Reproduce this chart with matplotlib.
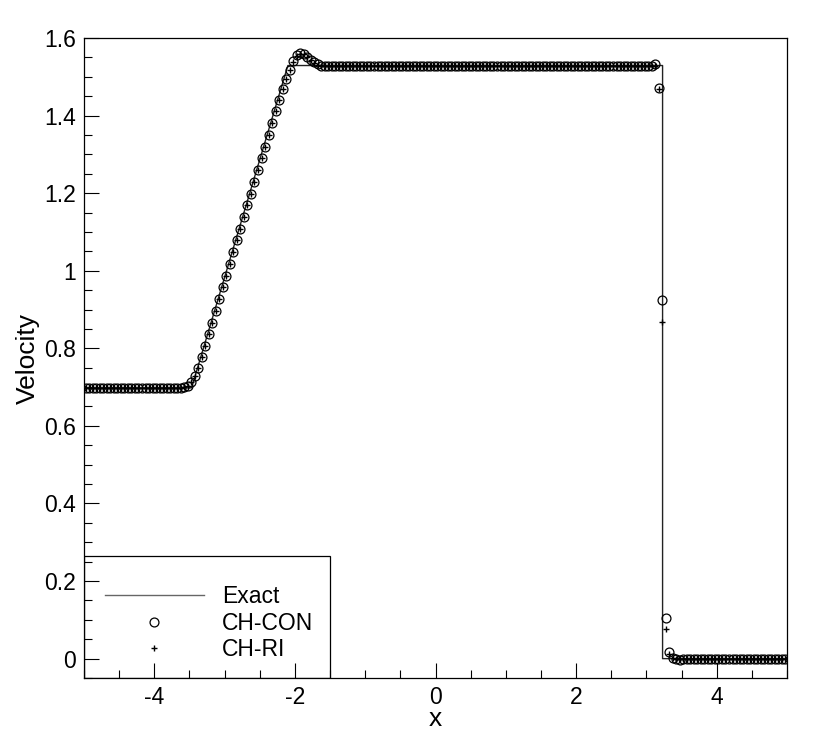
"""
    velocity profile of the Riemann problem: exact solution vs CH-CON / CH-RI
"""

import numpy as np
import matplotlib
matplotlib.use("Agg")
from matplotlib import pyplot as plt
from matplotlib.patches import Rectangle
from matplotlib.ticker import MultipleLocator, FuncFormatter

plt.rcParams['font.family'] = ['Liberation Sans', 'DejaVu Sans']
plt.rcParams['axes.unicode_minus'] = False

# exact solution (corner points)
exact_x = [-5.0, -3.47, -2.10, 3.23, 3.23, 5.0]
exact_u = [0.698, 0.698, 1.529, 1.529, 0.0, 0.0]

# cell centres, 200 cells on [-5, 5]
cell_x = np.linspace(-4.975, 4.975, 200)

ch_con = [
    0.698, 0.698, 0.698, 0.698, 0.698, 0.698, 0.698, 0.698, 0.698, 0.698,
    0.698, 0.698, 0.698, 0.698, 0.698, 0.698, 0.698, 0.698, 0.698, 0.698,
    0.698, 0.698, 0.698, 0.698, 0.698, 0.698, 0.698, 0.698, 0.699, 0.702,
    0.712, 0.729, 0.750, 0.777, 0.806, 0.836, 0.866, 0.896, 0.927, 0.957,
    0.987, 1.018, 1.048, 1.078, 1.108, 1.139, 1.169, 1.199, 1.229, 1.260,
    1.290, 1.320, 1.351, 1.381, 1.411, 1.441, 1.468, 1.494, 1.518, 1.540,
    1.555, 1.561, 1.559, 1.552, 1.544, 1.537, 1.532, 1.529, 1.527, 1.527,
    1.527, 1.528, 1.529, 1.529, 1.529, 1.529, 1.529, 1.529, 1.529, 1.529,
    1.529, 1.529, 1.529, 1.529, 1.529, 1.529, 1.529, 1.529, 1.529, 1.529,
    1.529, 1.529, 1.529, 1.529, 1.529, 1.529, 1.529, 1.529, 1.529, 1.529,
    1.529, 1.529, 1.529, 1.529, 1.529, 1.529, 1.529, 1.529, 1.529, 1.529,
    1.529, 1.529, 1.529, 1.529, 1.529, 1.529, 1.529, 1.529, 1.529, 1.529,
    1.529, 1.529, 1.529, 1.529, 1.529, 1.529, 1.529, 1.529, 1.529, 1.529,
    1.529, 1.529, 1.529, 1.529, 1.529, 1.529, 1.529, 1.529, 1.529, 1.529,
    1.529, 1.529, 1.529, 1.529, 1.529, 1.529, 1.529, 1.529, 1.529, 1.529,
    1.529, 1.529, 1.529, 1.529, 1.529, 1.529, 1.529, 1.529, 1.529, 1.529,
    1.529, 1.529, 1.534, 1.470, 0.925, 0.104, 0.017, 0.002, -0.002, -0.003,
    -0.002, -0.001, 0.0, 0.0, 0.0, 0.0, 0.0, 0.0, 0.0, 0.0,
    0.0, 0.0, 0.0, 0.0, 0.0, 0.0, 0.0, 0.0, 0.0, 0.0,
    0.0, 0.0, 0.0, 0.0, 0.0, 0.0, 0.0, 0.0, 0.0, 0.0,
]

ch_ri = [
    0.698, 0.698, 0.698, 0.698, 0.698, 0.698, 0.698, 0.698, 0.698, 0.698,
    0.698, 0.698, 0.698, 0.698, 0.698, 0.698, 0.698, 0.698, 0.698, 0.698,
    0.698, 0.698, 0.698, 0.698, 0.698, 0.698, 0.698, 0.698, 0.699, 0.702,
    0.712, 0.729, 0.750, 0.777, 0.806, 0.836, 0.866, 0.896, 0.927, 0.957,
    0.987, 1.018, 1.048, 1.078, 1.108, 1.139, 1.169, 1.199, 1.229, 1.260,
    1.290, 1.320, 1.351, 1.381, 1.411, 1.441, 1.468, 1.494, 1.517, 1.538,
    1.553, 1.559, 1.558, 1.551, 1.543, 1.536, 1.531, 1.528, 1.527, 1.527,
    1.527, 1.528, 1.529, 1.529, 1.529, 1.529, 1.529, 1.529, 1.529, 1.529,
    1.529, 1.529, 1.529, 1.529, 1.529, 1.529, 1.529, 1.529, 1.529, 1.529,
    1.529, 1.529, 1.529, 1.529, 1.529, 1.529, 1.529, 1.529, 1.529, 1.529,
    1.529, 1.529, 1.529, 1.529, 1.529, 1.529, 1.529, 1.529, 1.529, 1.529,
    1.529, 1.529, 1.529, 1.529, 1.529, 1.529, 1.529, 1.529, 1.529, 1.529,
    1.529, 1.529, 1.529, 1.529, 1.529, 1.529, 1.529, 1.529, 1.529, 1.529,
    1.529, 1.529, 1.529, 1.529, 1.529, 1.529, 1.529, 1.529, 1.529, 1.529,
    1.529, 1.529, 1.529, 1.529, 1.529, 1.529, 1.529, 1.529, 1.529, 1.529,
    1.529, 1.529, 1.529, 1.529, 1.529, 1.529, 1.529, 1.529, 1.529, 1.529,
    1.529, 1.529, 1.527, 1.468, 0.868, 0.076, 0.012, 0.001, -0.001, -0.002,
    -0.001, 0.0, 0.0, 0.0, 0.0, 0.0, 0.0, 0.0, 0.0, 0.0,
    0.0, 0.0, 0.0, 0.0, 0.0, 0.0, 0.0, 0.0, 0.0, 0.0,
    0.0, 0.0, 0.0, 0.0, 0.0, 0.0, 0.0, 0.0, 0.0, 0.0,
]

fig = plt.figure(figsize=(8.3, 7.39), dpi=100)
ax = fig.add_axes([0.1012, 0.0825, 0.8470, 0.8661])

ax.plot(exact_x, exact_u, color="#222222", lw=1.0, label="Exact", zorder=3)
ax.plot(cell_x, ch_con, ls="none", marker="o", ms=6.4, mfc="none",
        mec="black", mew=0.9, label="CH-CON", zorder=4)
ax.plot(cell_x, ch_ri, ls="none", marker="+", ms=4, mec="black",
        mew=1.0, label="CH-RI", zorder=5)

ax.set_xlim(-5, 5)
ax.set_ylim(-0.05, 1.6)

ax.xaxis.set_major_locator(MultipleLocator(2))
ax.xaxis.set_minor_locator(MultipleLocator(0.5))
ax.yaxis.set_major_locator(MultipleLocator(0.2))
ax.yaxis.set_minor_locator(MultipleLocator(0.05))
fmt = FuncFormatter(lambda v, p: "%g" % round(v, 3))
ax.xaxis.set_major_formatter(fmt)
ax.yaxis.set_major_formatter(fmt)

ax.tick_params(which="both", direction="in", top=False, right=False,
               labelsize=16.5, width=0.8, pad=6)
ax.tick_params(which="major", length=11)
ax.tick_params(which="minor", length=6)
for sp in ax.spines.values():
    sp.set_linewidth(0.9)

ax.set_xlabel("x", fontsize=19)
ax.set_ylabel("Velocity", fontsize=19)
ax.xaxis.set_label_coords(0.5, -0.046)
ax.yaxis.set_label_coords(-0.063, 0.5)

# legend box
ax.add_patch(Rectangle((0, 0), 0.35, 0.19, transform=ax.transAxes,
                       fill=False, edgecolor="black", lw=0.9, zorder=1))
leg = ax.legend(loc="upper left", bbox_to_anchor=(0.030, 0.145),
                frameon=False, fontsize=16.5, handlelength=4.3,
                handletextpad=0.8, labelspacing=0.15, borderpad=0,
                borderaxespad=0)
leg.get_lines()[0].set_color("#666666")

fig.savefig("out.png", dpi=100)
